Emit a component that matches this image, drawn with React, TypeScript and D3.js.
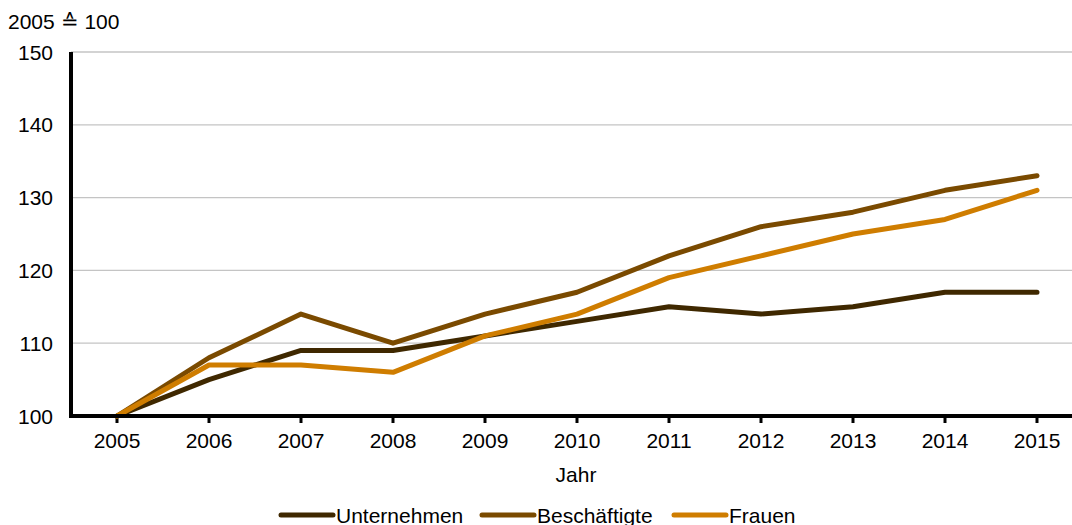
import React, { useEffect, useRef } from 'react';
import * as d3 from 'd3';

const years = ['2005', '2006', '2007', '2008', '2009', '2010', '2011', '2012', '2013', '2014', '2015'];
const unternehmen = [100, 105, 109, 109, 111, 113, 115, 114, 115, 117, 117];
const beschaeftigte = [100, 108, 114, 110, 114, 117, 122, 126, 128, 131, 133];
const frauen = [100, 107, 107, 106, 111, 114, 119, 122, 125, 127, 131];
const yTicks = [100, 110, 120, 130, 140, 150];

const series = [
  { name: 'Unternehmen', values: unternehmen, color: '#3f2800' },
  { name: 'Beschäftigte', values: beschaeftigte, color: '#7a4a00' },
  { name: 'Frauen', values: frauen, color: '#cf7d00' },
];

const W = 1072;
const H = 525;

export default function App() {
  const ref = useRef<SVGSVGElement>(null);

  useEffect(() => {
    const svg = d3.select(ref.current);
    svg.html('');
    const font = 'Liberation Sans, Arial, sans-serif';
    const fs = 21;

    const left = 71, right = 1072, top = 52, bottom = 416;
    const x = d3.scalePoint().domain(years).range([117, 1037]);
    const y = d3.scaleLinear().domain([100, 150]).range([bottom, top]);

    // grid
    svg.append('g').selectAll('line').data(yTicks.filter(t => t > 100)).enter().append('line')
      .attr('x1', left).attr('x2', right)
      .attr('y1', d => y(d)).attr('y2', d => y(d))
      .attr('stroke', '#c4c4c4').attr('stroke-width', 1.3);

    // y labels
    svg.append('g').selectAll('text').data(yTicks).enter().append('text')
      .attr('x', 53).attr('y', d => y(d) + 7.5)
      .attr('text-anchor', 'end').attr('font-family', font).attr('font-size', fs)
      .text(d => d);

    svg.append('text').attr('x', 8).attr('y', 29).attr('font-family', font).attr('font-size', fs)
      .text('2005 ≙ 100');

    // x ticks and labels
    svg.append('g').selectAll('line').data(years).enter().append('line')
      .attr('x1', d => x(d)!).attr('x2', d => x(d)!)
      .attr('y1', bottom).attr('y2', bottom + 7)
      .attr('stroke', '#000').attr('stroke-width', 3);
    svg.append('g').selectAll('text').data(years).enter().append('text')
      .attr('x', d => x(d)!).attr('y', 448)
      .attr('text-anchor', 'middle').attr('font-family', font).attr('font-size', fs)
      .text(d => d);

    svg.append('text').attr('x', 576).attr('y', 482).attr('text-anchor', 'middle')
      .attr('font-family', font).attr('font-size', fs).text('Jahr');

    // lines
    const line = d3.line<number>()
      .x((_, i) => x(years[i])!)
      .y(d => y(d));
    series.forEach(s => {
      svg.append('path').datum(s.values)
        .attr('d', line)
        .attr('fill', 'none')
        .attr('stroke', s.color)
        .attr('stroke-width', 5)
        .attr('stroke-linejoin', 'round')
        .attr('stroke-linecap', 'round');
    });

    // axes
    svg.append('line').attr('x1', left).attr('x2', left).attr('y1', top).attr('y2', bottom + 2)
      .attr('stroke', '#000').attr('stroke-width', 4);
    svg.append('line').attr('x1', left - 2).attr('x2', right).attr('y1', bottom).attr('y2', bottom)
      .attr('stroke', '#000').attr('stroke-width', 4);

    // legend
    const legendX = [281, 482, 674];
    series.forEach((s, i) => {
      const g = svg.append('g').attr('transform', `translate(${legendX[i]},515)`);
      g.append('line').attr('x1', 0).attr('x2', 52).attr('y1', 0).attr('y2', 0)
        .attr('stroke', s.color).attr('stroke-width', 5).attr('stroke-linecap', 'round');
      g.append('text').attr('x', 55).attr('y', 7.5).attr('font-family', font).attr('font-size', fs)
        .text(s.name);
    });
  }, []);

  return (
    <svg ref={ref} width={W} height={H} style={{ position: 'absolute', left: 0, top: 0, background: '#fff' }} />
  );
}
